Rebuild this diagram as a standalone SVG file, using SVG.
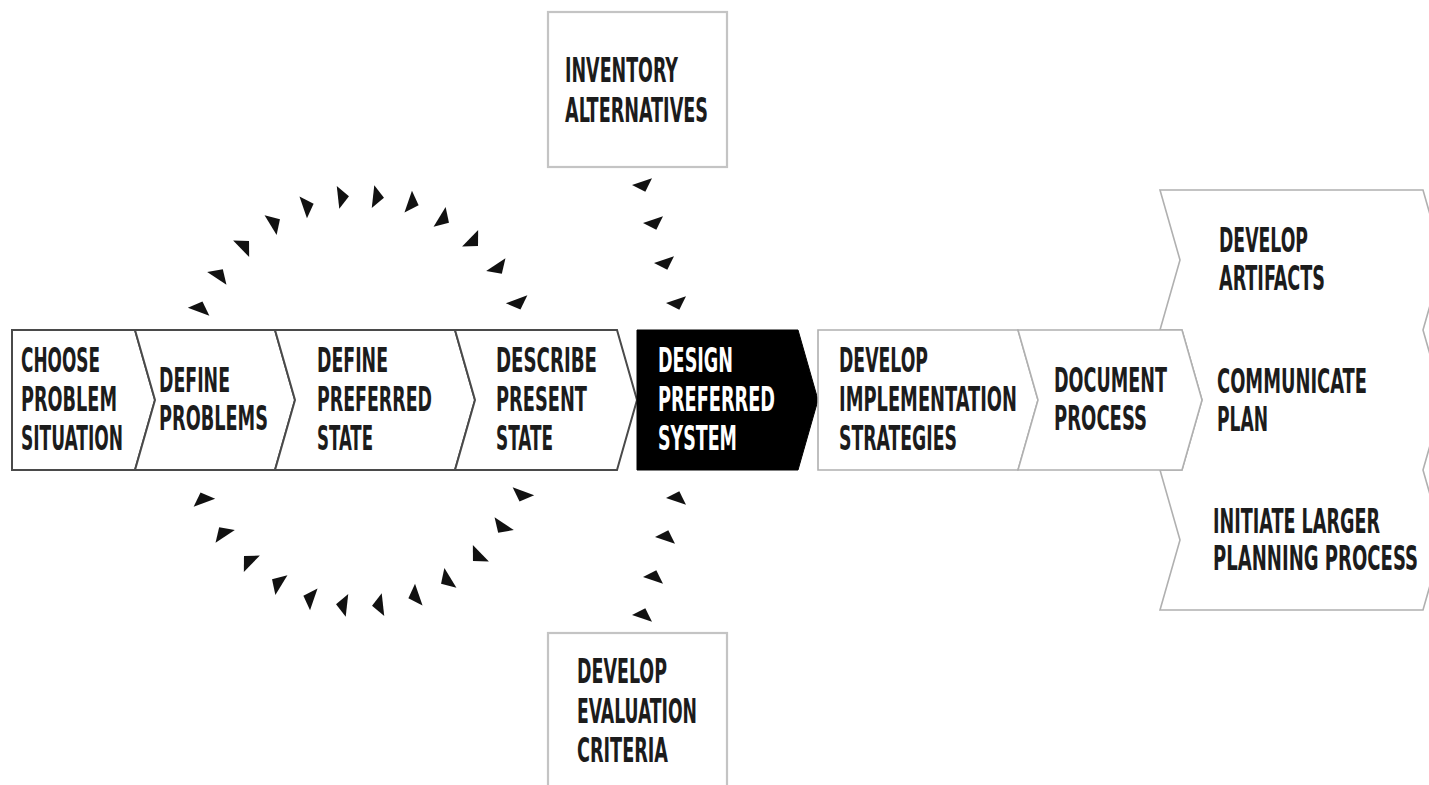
<svg xmlns="http://www.w3.org/2000/svg" xmlns:xlink="http://www.w3.org/1999/xlink" width="1429" height="785" viewBox="0 0 1429 785">
<style>
.t{font-family:"DejaVu Sans Condensed","DejaVu Sans","Liberation Sans",sans-serif;font-stretch:condensed;font-weight:bold;font-size:34px;fill:#1c1c1c}
.w{fill:#ffffff}
.dk{fill:#ffffff;stroke:#4a4a4a;stroke-width:2;stroke-linejoin:miter}
.lt{fill:#ffffff;stroke:#b0b0b0;stroke-width:1.6}
.bx{fill:#ffffff;stroke:#c4c4c4;stroke-width:2.2}
.ar{fill:#111111}
</style>
<defs>
<path id="a" d="M-4,-11.5 L-4,11.5 L7,0 Z"/>
<path id="rt" d="M0,0 L20,-6.7 L13.3,6.7 Z"/>
<path id="rb" d="M0,0 L13.3,-6.7 L20,6.7 Z"/>
</defs>
<rect width="1429" height="785" fill="#ffffff"/>

<g id="inventory-alternatives">
<rect class="bx" x="548" y="12" width="179" height="155"/>
<text class="t" x="565" y="82" textLength="113" lengthAdjust="spacingAndGlyphs">INVENTORY</text>
<text class="t" x="565" y="122" textLength="143" lengthAdjust="spacingAndGlyphs">ALTERNATIVES</text>
</g>

<g id="develop-evaluation-criteria">
<rect class="bx" x="548" y="633" width="179" height="180"/>
<text class="t" x="577" y="683" textLength="90" lengthAdjust="spacingAndGlyphs">DEVELOP</text>
<text class="t" x="577" y="723" textLength="120" lengthAdjust="spacingAndGlyphs">EVALUATION</text>
<text class="t" x="577" y="762" textLength="91" lengthAdjust="spacingAndGlyphs">CRITERIA</text>
</g>

<g id="outcomes">
<polygon class="lt" points="1160,190 1423,190 1443,260 1423,330 1443,400 1423,470 1443,540 1423,610 1160,610 1180,540 1160,470 1182,470 1202,400 1182,330 1160,330 1180,260"/>
<text class="t" x="1219" y="252" textLength="89" lengthAdjust="spacingAndGlyphs">DEVELOP</text>
<text class="t" x="1219" y="290" textLength="106" lengthAdjust="spacingAndGlyphs">ARTIFACTS</text>
<text class="t" x="1217" y="393" textLength="150" lengthAdjust="spacingAndGlyphs">COMMUNICATE</text>
<text class="t" x="1217" y="431" textLength="51" lengthAdjust="spacingAndGlyphs">PLAN</text>
<text class="t" x="1213" y="533" textLength="167" lengthAdjust="spacingAndGlyphs">INITIATE LARGER</text>
<text class="t" x="1213" y="570" textLength="205" lengthAdjust="spacingAndGlyphs">PLANNING PROCESS</text>
</g>

<g id="choose-problem-situation">
<polygon class="dk" points="12,330 135,330 155,400 135,470 12,470"/>
<text class="t" x="21" y="372" textLength="79" lengthAdjust="spacingAndGlyphs">CHOOSE</text>
<text class="t" x="21" y="411" textLength="96" lengthAdjust="spacingAndGlyphs">PROBLEM</text>
<text class="t" x="21" y="450" textLength="102" lengthAdjust="spacingAndGlyphs">SITUATION</text>
</g>

<g id="define-problems">
<polygon class="dk" points="135,330 275,330 295,400 275,470 135,470 155,400"/>
<text class="t" x="159" y="392" textLength="71" lengthAdjust="spacingAndGlyphs">DEFINE</text>
<text class="t" x="159" y="430" textLength="109" lengthAdjust="spacingAndGlyphs">PROBLEMS</text>
</g>

<g id="define-preferred-state">
<polygon class="dk" points="275,330 455,330 475,400 455,470 275,470 295,400"/>
<text class="t" x="317" y="372" textLength="71" lengthAdjust="spacingAndGlyphs">DEFINE</text>
<text class="t" x="317" y="411" textLength="115" lengthAdjust="spacingAndGlyphs">PREFERRED</text>
<text class="t" x="317" y="450" textLength="56" lengthAdjust="spacingAndGlyphs">STATE</text>
</g>

<g id="describe-present-state">
<polygon class="dk" points="455,330 617,330 637,400 617,470 455,470 475,400"/>
<text class="t" x="496" y="372" textLength="101" lengthAdjust="spacingAndGlyphs">DESCRIBE</text>
<text class="t" x="496" y="411" textLength="91" lengthAdjust="spacingAndGlyphs">PRESENT</text>
<text class="t" x="496" y="450" textLength="57" lengthAdjust="spacingAndGlyphs">STATE</text>
</g>

<g id="design-preferred-system">
<polygon fill="#000000" stroke="#000000" stroke-width="1" points="637,330 798,330 818,400 798,470 637,470"/>
<text class="t w" x="658" y="372" textLength="75" lengthAdjust="spacingAndGlyphs">DESIGN</text>
<text class="t w" x="658" y="411" textLength="117" lengthAdjust="spacingAndGlyphs">PREFERRED</text>
<text class="t w" x="658" y="450" textLength="79" lengthAdjust="spacingAndGlyphs">SYSTEM</text>
</g>

<g id="develop-implementation-strategies">
<polygon class="lt" points="818,330 1018,330 1038,400 1018,470 818,470"/>
<text class="t" x="839" y="372" textLength="89" lengthAdjust="spacingAndGlyphs">DEVELOP</text>
<text class="t" x="839" y="411" textLength="178" lengthAdjust="spacingAndGlyphs">IMPLEMENTATION</text>
<text class="t" x="839" y="450" textLength="118" lengthAdjust="spacingAndGlyphs">STRATEGIES</text>
</g>

<g id="document-process">
<polygon class="lt" points="1018,330 1182,330 1202,400 1182,470 1018,470 1038,400"/>
<text class="t" x="1054" y="392" textLength="113" lengthAdjust="spacingAndGlyphs">DOCUMENT</text>
<text class="t" x="1054" y="430" textLength="93" lengthAdjust="spacingAndGlyphs">PROCESS</text>
</g>

<g id="connectors" class="ar">
<use xlink:href="#a" transform="translate(200,308) rotate(-69.5)"/>
<use xlink:href="#a" transform="translate(219,275) rotate(-56.9)"/>
<use xlink:href="#a" transform="translate(244,246) rotate(-44.2)"/>
<use xlink:href="#a" transform="translate(274,223) rotate(-31.6)"/>
<use xlink:href="#a" transform="translate(307,206) rotate(-19)"/>
<use xlink:href="#a" transform="translate(342,197) rotate(-6.3)"/>
<use xlink:href="#a" transform="translate(377,197) rotate(6.3)"/>
<use xlink:href="#a" transform="translate(412,203) rotate(19)"/>
<use xlink:href="#a" transform="translate(443,219) rotate(31.6)"/>
<use xlink:href="#a" transform="translate(473,241) rotate(44.2)"/>
<use xlink:href="#a" transform="translate(498,268) rotate(56.9)"/>
<use xlink:href="#a" transform="translate(518,303) rotate(69.5)"/>
<use xlink:href="#a" transform="translate(522,495) rotate(110.5)"/>
<use xlink:href="#a" transform="translate(502,527) rotate(123.1)"/>
<use xlink:href="#a" transform="translate(478,556) rotate(135.8)"/>
<use xlink:href="#a" transform="translate(447,580) rotate(148.4)"/>
<use xlink:href="#a" transform="translate(415,596) rotate(161)"/>
<use xlink:href="#a" transform="translate(379,605) rotate(173.7)"/>
<use xlink:href="#a" transform="translate(343,605) rotate(-173.7)"/>
<use xlink:href="#a" transform="translate(310,598) rotate(-161)"/>
<use xlink:href="#a" transform="translate(278,583) rotate(-148.4)"/>
<use xlink:href="#a" transform="translate(249,561) rotate(-135.8)"/>
<use xlink:href="#a" transform="translate(223,533) rotate(-123.1)"/>
<use xlink:href="#a" transform="translate(203,499) rotate(-110.5)"/>
<use xlink:href="#rt" x="632" y="185"/>
<use xlink:href="#rt" x="643" y="223"/>
<use xlink:href="#rt" x="654" y="263"/>
<use xlink:href="#rt" x="666" y="303"/>
<use xlink:href="#rb" x="666" y="498"/>
<use xlink:href="#rb" x="655" y="537"/>
<use xlink:href="#rb" x="643" y="577"/>
<use xlink:href="#rb" x="632" y="615"/>
</g>
</svg>
